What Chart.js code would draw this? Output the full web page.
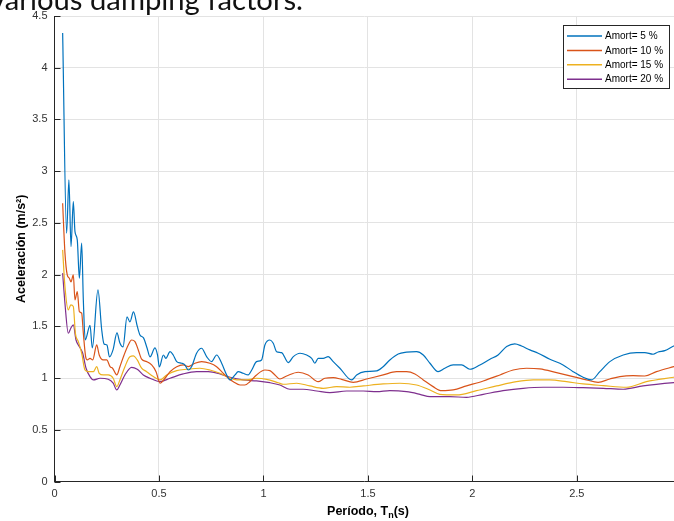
<!DOCTYPE html>
<html><head><meta charset="utf-8">
<script src="https://cdn.jsdelivr.net/npm/chart.js@4.4.1/dist/chart.umd.min.js"></script>
<style>html,body{margin:0;padding:0;background:#fff;overflow:hidden}#wrap{position:relative;width:674px;height:521px}</style>
</head><body><div id="wrap"><canvas id="c" width="674" height="521"></canvas></div>
<script>
const titleText = "various damping factors.";
const xTitleMain = "Período, T", xTitleSub = "n", xTitleEnd = "(s)";
const yTitle = "Aceleración (m/s²)";
const seriesLabels = ["Amort= 5 %", "Amort= 10 %", "Amort= 15 %", "Amort= 20 %"];
const seriesColors = ["#0072BD", "#D95319", "#EDB120", "#7E2F8E"];
const xTickValues = [0, 0.5, 1, 1.5, 2, 2.5];
const yTickValues = [0, 0.5, 1, 1.5, 2, 2.5, 3, 3.5, 4, 4.5];

const periods5 = [0.039,0.058,0.069,0.079,0.090,0.098,0.109,0.119,0.130,0.138,0.147,0.170,0.181,0.208,0.226,0.237,0.251,0.263,0.280,0.299,0.313,0.328,0.347,0.361,0.378,0.397,0.409,0.426,0.443,0.457,0.481,0.493,0.502,0.521,0.533,0.553,0.568,0.585,0.609,0.624,0.640,0.656,0.680,0.704,0.728,0.752,0.776,0.800,0.824,0.840,0.864,0.879,0.903,0.927,0.944,0.967,0.991,1.007,1.031,1.047,1.063,1.087,1.119,1.143,1.175,1.207,1.231,1.246,1.262,1.286,1.310,1.334,1.366,1.422,1.446,1.486,1.542,1.573,1.605,1.645,1.685,1.733,1.765,1.797,1.836,1.868,1.908,1.948,1.988,2.036,2.084,2.123,2.164,2.203,2.235,2.275,2.315,2.371,2.434,2.482,2.530,2.570,2.610,2.658,2.722,2.786,2.825,2.865,2.889,2.921,2.964,3.000];
const accel5 = [4.335,2.400,2.916,2.271,2.706,2.416,2.336,1.965,2.304,1.755,1.368,1.509,1.291,1.852,1.465,1.330,1.320,1.204,1.272,1.436,1.339,1.301,1.591,1.543,1.639,1.494,1.417,1.388,1.291,1.204,1.291,1.223,1.107,1.223,1.191,1.255,1.223,1.159,1.143,1.127,1.078,1.110,1.240,1.288,1.207,1.159,1.223,1.143,1.030,0.982,1.030,1.062,1.046,1.030,1.078,1.159,1.175,1.320,1.368,1.337,1.255,1.246,1.149,1.207,1.240,1.223,1.191,1.143,1.191,1.191,1.207,1.159,1.095,0.982,1.030,1.062,1.069,1.110,1.175,1.233,1.250,1.255,1.223,1.143,1.062,1.095,1.127,1.127,1.085,1.127,1.182,1.223,1.304,1.330,1.310,1.272,1.240,1.182,1.127,1.062,1.008,0.982,1.062,1.159,1.223,1.246,1.246,1.230,1.252,1.265,1.310,1.340];

const periods10 = [0.039,0.050,0.061,0.071,0.079,0.090,0.098,0.109,0.119,0.130,0.138,0.149,0.157,0.170,0.183,0.202,0.214,0.233,0.250,0.266,0.278,0.298,0.313,0.333,0.353,0.369,0.385,0.401,0.417,0.441,0.465,0.486,0.505,0.529,0.553,0.585,0.616,0.640,0.672,0.704,0.744,0.776,0.800,0.832,0.856,0.888,0.911,0.935,0.967,1.007,1.031,1.055,1.079,1.111,1.167,1.214,1.262,1.294,1.334,1.374,1.430,1.494,1.573,1.637,1.685,1.725,1.765,1.812,1.853,1.908,1.972,2.052,2.132,2.195,2.259,2.323,2.403,2.482,2.546,2.602,2.658,2.706,2.769,2.825,2.881,2.964,3.000];
const accel10 = [2.690,2.210,1.997,1.965,1.929,1.997,1.755,1.836,1.642,1.627,1.433,1.207,1.175,1.191,1.175,1.320,1.223,1.175,1.175,1.110,1.095,1.030,1.110,1.223,1.320,1.368,1.352,1.272,1.182,1.159,1.127,1.062,0.950,0.998,1.062,1.110,1.127,1.110,1.143,1.159,1.143,1.110,1.062,0.998,0.965,0.933,0.933,0.965,1.030,1.078,1.072,1.030,0.991,1.020,1.056,1.030,0.965,0.998,1.004,0.988,0.959,0.991,1.030,1.062,1.062,1.040,0.982,0.917,0.878,0.885,0.924,0.972,1.030,1.078,1.095,1.088,1.052,1.014,0.982,0.959,0.991,1.014,1.023,1.020,1.062,1.110,1.130];

const periods15 = [0.039,0.050,0.066,0.078,0.090,0.100,0.114,0.130,0.146,0.162,0.186,0.202,0.214,0.233,0.257,0.281,0.298,0.313,0.337,0.361,0.377,0.396,0.417,0.441,0.473,0.505,0.537,0.585,0.633,0.696,0.744,0.792,0.832,0.872,0.920,0.967,1.015,1.071,1.095,1.159,1.222,1.286,1.350,1.414,1.478,1.573,1.653,1.733,1.797,1.844,1.924,2.020,2.116,2.211,2.291,2.371,2.451,2.530,2.626,2.738,2.833,2.964,3.000];
const accel15 = [2.239,1.884,1.659,1.707,1.691,1.433,1.352,1.240,1.078,1.062,1.062,1.110,1.046,1.030,1.030,0.998,0.917,0.982,1.110,1.207,1.214,1.175,1.095,1.062,1.014,0.982,1.030,1.072,1.085,1.095,1.078,1.046,1.008,0.982,0.982,0.998,0.988,0.955,0.940,0.950,0.924,0.901,0.917,0.911,0.924,0.943,0.950,0.933,0.885,0.843,0.837,0.878,0.924,0.965,0.982,0.982,0.965,0.943,0.927,0.911,0.965,1.008,1.020];

const periods20 = [0.039,0.050,0.066,0.078,0.090,0.103,0.119,0.135,0.151,0.170,0.186,0.218,0.257,0.281,0.298,0.313,0.337,0.369,0.396,0.425,0.457,0.505,0.553,0.616,0.680,0.736,0.792,0.840,0.903,0.967,1.031,1.079,1.127,1.190,1.255,1.318,1.398,1.478,1.542,1.605,1.685,1.749,1.797,1.892,1.972,2.052,2.147,2.243,2.339,2.434,2.530,2.626,2.722,2.817,2.964,3.000];
const accel20 = [2.014,1.723,1.433,1.482,1.514,1.368,1.304,1.240,1.095,1.014,0.982,0.998,0.988,0.950,0.885,0.933,1.030,1.104,1.085,1.030,0.998,0.965,0.998,1.040,1.062,1.062,1.040,1.008,0.982,0.972,0.955,0.933,0.892,0.892,0.875,0.859,0.875,0.875,0.868,0.878,0.868,0.843,0.820,0.820,0.814,0.843,0.878,0.901,0.911,0.911,0.907,0.901,0.892,0.924,0.955,0.960];

const seriesX = [periods5, periods10, periods15, periods20];
const seriesY = [accel5, accel10, accel15, accel20];

function pts(xs, ys){ const n=Math.min(xs.length, ys.length); const a=[]; for(let i=0;i<n;i++) a.push({x:xs[i], y:ys[i]}); return a; }

const datasets = seriesLabels.map((lab,i)=>({
  label: lab, data: pts(seriesX[i], seriesY[i]), borderColor: seriesColors[i], backgroundColor: seriesColors[i],
  borderWidth: 1.2, pointRadius: 0, fill: false, cubicInterpolationMode: 'monotone'
}));

const FONT = "'Liberation Sans', Arial, Helvetica, sans-serif";
const AX = '#262626';
const fmt = v => String(Math.round(v*10)/10);

const decor = {
  id: 'decor',
  afterDraw(chart){
    const ctx = chart.ctx, ca = chart.chartArea, xs = chart.scales.x, ys = chart.scales.y;
    ctx.save();
    ctx.strokeStyle = AX; ctx.lineWidth = 1;
    ctx.beginPath();
    xTickValues.forEach(v=>{ const p=Math.round(xs.getPixelForValue(v))+0.5; ctx.moveTo(p, ca.bottom); ctx.lineTo(p, ca.bottom-6); });
    yTickValues.forEach(v=>{ const p=Math.round(ys.getPixelForValue(v))+0.5; ctx.moveTo(ca.left, p); ctx.lineTo(ca.left+6, p); });
    ctx.stroke();
    const bx=563.5, by=25.5, bw=106, bh=63;
    ctx.fillStyle='#fff'; ctx.fillRect(bx,by,bw,bh);
    ctx.strokeStyle=AX; ctx.lineWidth=1; ctx.strokeRect(bx,by,bw,bh);
    ctx.font = "10px " + FONT; ctx.textBaseline='middle'; ctx.textAlign='left';
    chart.data.datasets.forEach((ds,i)=>{
      const yy = 36 + i*14.4;
      ctx.strokeStyle = ds.borderColor; ctx.lineWidth = 1.5;
      ctx.beginPath(); ctx.moveTo(567, yy); ctx.lineTo(602, yy); ctx.stroke();
      ctx.fillStyle = '#000'; ctx.fillText(ds.label, 605, yy+0.5);
    });
    ctx.fillStyle = '#000'; ctx.textBaseline='alphabetic';
    const fMain = "bold 12.5px " + FONT, fSub = "bold 9px " + FONT;
    ctx.font = fMain; const w1 = ctx.measureText(xTitleMain).width, w3 = ctx.measureText(xTitleEnd).width;
    ctx.font = fSub; const w2 = ctx.measureText(xTitleSub).width;
    const cx = 368, total = w1+w2+w3; let x0 = cx - total/2; const base = 515;
    ctx.font = fMain; ctx.fillText(xTitleMain, x0, base);
    ctx.font = fSub; ctx.fillText(xTitleSub, x0+w1, base+3);
    ctx.font = fMain; ctx.fillText(xTitleEnd, x0+w1+w2, base);
    ctx.save(); ctx.translate(22, (ca.top+ca.bottom)/2); ctx.rotate(-Math.PI/2);
    ctx.font = "bold 12.5px " + FONT; ctx.textAlign='center'; ctx.textBaseline='middle';
    ctx.fillText(yTitle, 0, 0); ctx.restore();
    ctx.font = "100px Lato"; const wRef = ctx.measureText("damping factors.").width;
    const size = 100*213/wRef; ctx.font = size.toFixed(2)+"px Lato";
    const pre = ctx.measureText("various ").width;
    ctx.fillStyle = '#111'; ctx.textAlign='left'; ctx.textBaseline='alphabetic';
    ctx.fillText(titleText, 90 - pre, 10);
    ctx.restore();
  }
};

new Chart(document.getElementById('c'), {
  type: 'line',
  data: { datasets },
  options: {
    responsive: false, animation: false, devicePixelRatio: 1,
    layout: { padding: { top: 16, right: 0, left: 0, bottom: 0 } },
    plugins: { legend: { display: false }, tooltip: { enabled: false }, title: { display: false } },
    scales: {
      x: { type: 'linear', min: 0, max: 2.965,
        ticks: { stepSize: 0.5, includeBounds: false, color: '#333', font: { family: FONT, size: 11 }, padding: 6, maxRotation: 0, autoSkip: false, callback: fmt },
        grid: { color: '#e3e3e3', drawTicks: false, lineWidth: 1 },
        border: { color: AX, width: 1 },
        afterFit: s => { s.height = 39.5; } },
      y: { type: 'linear', min: 0, max: 4.5,
        ticks: { stepSize: 0.5, color: '#333', font: { family: FONT, size: 11 }, padding: 7, callback: fmt },
        grid: { color: '#e3e3e3', drawTicks: false, lineWidth: 1 },
        border: { color: AX, width: 1 },
        afterFit: s => { s.width = 54.5; } }
    }
  },
  plugins: [decor]
});
</script></body></html>
